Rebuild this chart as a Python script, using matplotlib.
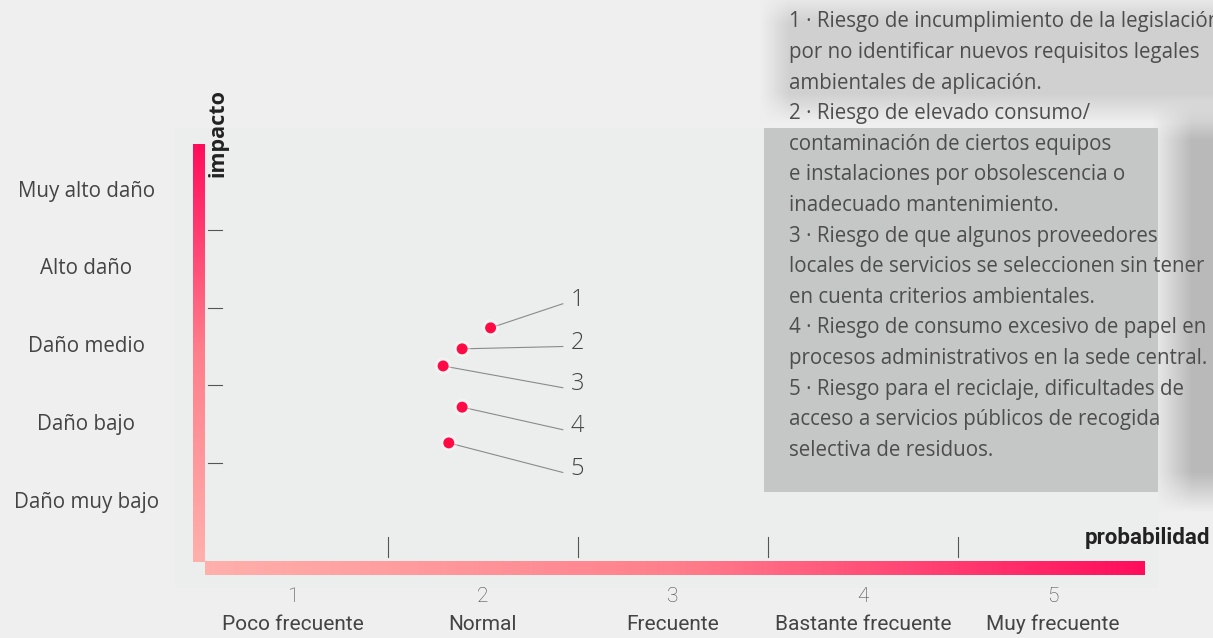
import numpy as np
import matplotlib.pyplot as plt
from matplotlib.colors import LinearSegmentedColormap

# datos
prob_nums = ["1", "2", "3", "4", "5"]
prob_labels = ["Poco frecuente", "Normal", "Frecuente", "Bastante frecuente", "Muy frecuente"]
impact_labels = ["Daño muy bajo", "Daño bajo", "Daño medio", "Alto daño", "Muy alto daño"]
risk_ids = ["1", "2", "3", "4", "5"]
risk_prob = [2.04, 1.89, 1.79, 1.89, 1.82]
risk_impact = [3.24, 2.97, 2.75, 2.22, 1.76]
label_x = [2.46, 2.46, 2.46, 2.46, 2.46]
label_y = [3.60, 3.05, 2.52, 1.98, 1.43]
legend_lines = [
    "1 · Riesgo de incumplimiento de la legislación",
    "por no identificar nuevos requisitos legales",
    "ambientales de aplicación.",
    "2 · Riesgo de elevado consumo/",
    "contaminación de ciertos equipos",
    "e instalaciones por obsolescencia o",
    "inadecuado mantenimiento.",
    "3 · Riesgo de que algunos proveedores",
    "locales de servicios se seleccionen sin tener",
    "en cuenta criterios ambientales.",
    "4 · Riesgo de consumo excesivo de papel en",
    "procesos administrativos en la sede central.",
    "5 · Riesgo para el reciclaje, dificultades de",
    "acceso a servicios públicos de recogida",
    "selectiva de residuos.",
]

plt.rcParams['font.family'] = ['Open Sans', 'DejaVu Sans']
narrow = ['Liberation Sans Narrow', 'Roboto', 'Open Sans', 'DejaVu Sans']

W, H = 1213, 638
fig = plt.figure(figsize=(W / 100, H / 100), dpi=100, facecolor='#efefef')

# fondo (sombras difusas, panel y caja de texto) en pixeles
X, Y = np.meshgrid(np.arange(W) + 0.5, np.arange(H) + 0.5)


def soft(x0, x1, y0, y1, s):
    fx = np.clip((X - x0) / s + 0.5, 0, 1) * np.clip((x1 - X) / s + 0.5, 0, 1)
    fy = np.clip((Y - y0) / s + 0.5, 0, 1) * np.clip((y1 - Y) / s + 0.5, 0, 1)
    return fx * fy


bg = np.ones((H, W, 3)) * np.array([239, 239, 239])
for (x0, x1, y0, y1, s, col) in [
    (775, 1260, 8, 108, 30, (208, 208, 208)),
    (1172, 1260, 120, 492, 40, (185, 185, 185)),
    (175, 1158, 128, 588, 1, (236, 238, 237)),
    (764, 1158, 128, 492, 1, (196, 199, 198)),
]:
    m = soft(x0, x1, y0, y1, s)[..., None]
    bg = bg * (1 - m) + np.array(col) * m

bax = fig.add_axes([0, 0, 1, 1], zorder=0)
bax.imshow(bg / 255.0, extent=(0, W, H, 0), aspect='auto', interpolation='bilinear')
bax.axis('off')

ax = fig.add_axes([0, 0, 1, 1], zorder=1)
ax.patch.set_alpha(0)
ax.set_xlim(-0.5421, 5.8421)
ax.set_ylim(-0.749, 7.4566)
ax.axis('off')

# ejes con degradado
cmap = LinearSegmentedColormap.from_list('rosa', ['#ffb0ac', '#ff7f8c', '#ff0d5c'])
grad = np.linspace(0, 1, 256)
ax.imshow(grad[:, None], cmap=cmap, origin='lower', aspect='auto',
          extent=(0.474, 0.537, 0.23, 5.60), zorder=2)
ax.imshow(grad[None, :], cmap=cmap, origin='lower', aspect='auto',
          extent=(0.537, 5.48, 0.06, 0.23), zorder=2)

# marcas de division
for i in range(4):
    ax.plot([1.5 + i, 1.5 + i], [0.29, 0.55], color='#555555', lw=0.8, zorder=3)
    ax.plot([0.553, 0.626], [1.5 + i, 1.5 + i], color='#555555', lw=0.8, zorder=3)

# etiquetas de ejes
for i, t in enumerate(impact_labels):
    ax.text(-0.089, 1 + i, t, ha='center', va='center', fontsize=14.8, color='#444444')
for i, (n, t) in enumerate(zip(prob_nums, prob_labels)):
    ax.text(1 + i, -0.21, n, ha='center', va='center', fontsize=15, color='#4a4a4a',
            family=narrow, fontweight='light')
    ax.text(1 + i, -0.57, t, ha='center', va='center', fontsize=15, color='#444444',
            family=narrow)
ax.text(5.83, 0.54, 'probabilidad', ha='right', va='center', fontsize=16,
        fontweight='bold', color='#222222', family=narrow)
ax.text(0.607, 5.74, 'impacto', ha='center', va='center', rotation=90, fontsize=15.5,
        fontweight='bold', color='#222222')

# riesgos
for px, py, lx, ly in zip(risk_prob, risk_impact, label_x, label_y):
    ax.plot([px, lx - 0.04], [py, ly - 0.05], color='#8a8a8a', lw=0.8, zorder=4)
ax.scatter(risk_prob, risk_impact, s=150, color='white', alpha=0.3, zorder=4, edgecolors='none')
ax.scatter(risk_prob, risk_impact, s=62, color='#ff0a45', zorder=5, edgecolors='none')
for rid, lx, ly in zip(risk_ids, label_x, label_y):
    ax.text(lx, ly, rid, ha='left', va='center', fontsize=17, color='#444444',
            fontweight='light', zorder=5)

# texto explicativo
for i, line in enumerate(legend_lines):
    ax.text(789 / W, 1 - (22 + i * 30.6) / H, line, ha='left', va='center',
            fontsize=14.8, color='#4d4d4d', transform=ax.transAxes, zorder=6)

fig.savefig('out.png', dpi=100, facecolor=fig.get_facecolor())
